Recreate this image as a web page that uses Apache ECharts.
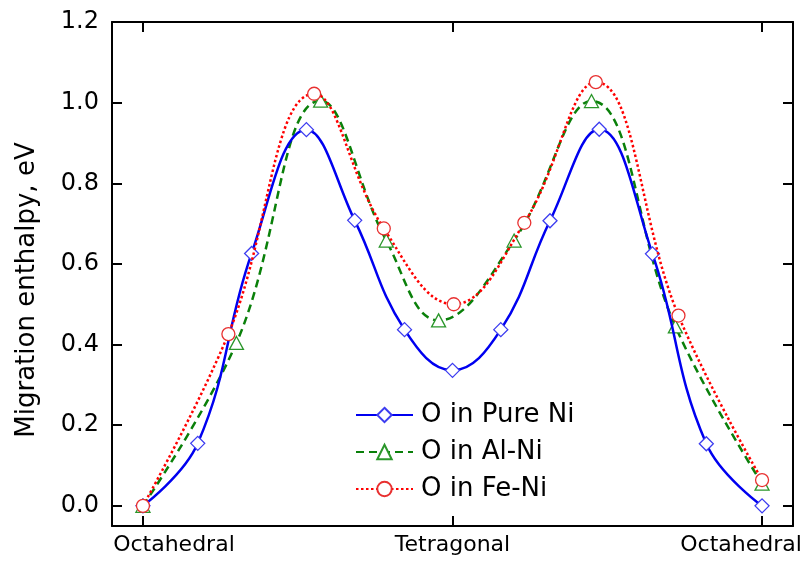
<!DOCTYPE html>
<html>
<head>
<meta charset="utf-8">
<script src="https://cdn.jsdelivr.net/npm/echarts@6/dist/echarts.min.js"></script>
<style>html,body{margin:0;padding:0;background:#fff}#c{width:807px;height:561px}</style>
</head>
<body>
<div id="c"></div>
<script>
// Reaction coordinate (0 = Octahedral, 1 = Tetragonal, 2 = Octahedral)
var pureNiX = [0, 0.177, 0.351, 0.528, 0.684, 0.845, 1.0, 1.156, 1.315, 1.474, 1.646, 1.82, 2.0];
var pureNiY = [0, 0.155, 0.626, 0.933, 0.708, 0.437, 0.336, 0.437, 0.707, 0.934, 0.625, 0.154, 0];
var alNiX = [0, 0.302, 0.574, 0.786, 0.955, 1.199, 1.449, 1.72, 2.0];
var alNiY = [0, 0.404, 1.005, 0.658, 0.46, 0.658, 1.004, 0.445, 0.055];
var feNiX = [0, 0.276, 0.553, 0.778, 1.004, 1.232, 1.463, 1.73, 2.0];
var feNiY = [0, 0.426, 1.022, 0.688, 0.5, 0.702, 1.051, 0.472, 0.064];
var seriesNames = ['O in Pure Ni', 'O in Al-Ni', 'O in Fe-Ni'];
var xTickValues = [0, 1, 2];
var xTickLabels = ['Octahedral', 'Tetragonal', 'Octahedral'];
var yTickValues = [0, 0.2, 0.4, 0.6, 0.8, 1.0, 1.2];
var yTitle = 'Migration enthalpy, eV';

function pairs(xs, ys) { return xs.map(function (x, i) { return [x, ys[i]]; }); }

var FONT = 'DejaVu Sans';
var chart = echarts.init(document.getElementById('c'), null, {renderer: 'canvas'});
var axisLineStyle = {color: '#000', width: 2};
var SMOOTH = 0.42;

var option = {
  backgroundColor: '#fff',
  animation: false,
  grid: {left: 112, right: 14, top: 22, bottom: 35, containLabel: false},
  legend: {
    orient: 'vertical', left: 355, top: 402, itemGap: 11, padding: 0,
    itemWidth: 57, itemHeight: 18,
    textStyle: {fontFamily: FONT, fontSize: 26, color: '#000', padding: [0, 0, 0, 3]},
    data: seriesNames
  },
  xAxis: [{
    type: 'value', min: -0.1, max: 2.1, position: 'bottom',
    axisLine: {show: true, onZero: false, lineStyle: axisLineStyle},
    axisTick: {show: true, inside: true, length: 10, lineStyle: {color: '#000', width: 2}, customValues: xTickValues},
    axisLabel: {
      show: true, margin: 8, customValues: xTickValues,
      fontFamily: FONT, fontSize: 22, color: '#000',
      formatter: function (v) {
        var i = xTickValues.indexOf(Math.round(v));
        if (i === 0) return '{l|' + xTickLabels[i] + '}';
        if (i === 2) return '{r|' + xTickLabels[i] + '}';
        return xTickLabels[i];
      },
      rich: {
        l: {fontFamily: FONT, fontSize: 22, color: '#000', padding: [0, 0, 0, 62]},
        r: {fontFamily: FONT, fontSize: 22, color: '#000', padding: [0, 42, 0, 0]}
      }
    },
    splitLine: {show: false}
  }, {
    type: 'value', min: -0.1, max: 2.1, position: 'top',
    axisLine: {show: true, onZero: false, lineStyle: axisLineStyle},
    axisTick: {show: true, inside: true, length: 10, lineStyle: {color: '#000', width: 2}, customValues: xTickValues},
    axisLabel: {show: false},
    splitLine: {show: false}
  }],
  yAxis: [{
    type: 'value', min: -0.05, max: 1.2, position: 'left',
    axisLine: {show: true, onZero: false, lineStyle: axisLineStyle},
    axisTick: {show: true, inside: true, length: 10, lineStyle: {color: '#000', width: 2}, customValues: yTickValues},
    axisLabel: {
      show: true, margin: 13, customValues: yTickValues,
      fontFamily: FONT, fontSize: 24, color: '#000',
      formatter: function (v) { return v.toFixed(1); }
    },
    splitLine: {show: false}
  }, {
    type: 'value', min: -0.05, max: 1.2, position: 'right',
    axisLine: {show: true, onZero: false, lineStyle: axisLineStyle},
    axisTick: {show: true, inside: true, length: 10, lineStyle: {color: '#000', width: 2}, customValues: yTickValues},
    axisLabel: {show: false},
    splitLine: {show: false}
  }],
  graphic: [{
    type: 'text', x: 27, y: 290, rotation: Math.PI / 2,
    style: {text: yTitle, fontFamily: FONT, fontSize: 26, fill: '#000', align: 'center', verticalAlign: 'middle'}
  }],
  series: [{
    name: seriesNames[0], type: 'line', smooth: SMOOTH,
    data: pairs(pureNiX, pureNiY),
    symbol: 'diamond', symbolSize: [14, 14], showSymbol: true,
    color: '#0000ff',
    lineStyle: {color: '#0000f0', width: 2.5, type: 'solid'},
    itemStyle: {color: '#fff', borderColor: '#3c3cf0', borderWidth: 1.3},
    z: 3
  }, {
    name: seriesNames[1], type: 'line', smooth: SMOOTH,
    data: pairs(alNiX, alNiY),
    symbol: 'triangle', symbolSize: [14, 13], showSymbol: true,
    color: '#008000',
    lineStyle: {color: '#0a800a', width: 2.5, type: [8, 5]},
    itemStyle: {color: '#fff', borderColor: '#2a962a', borderWidth: 1.3},
    z: 2
  }, {
    name: seriesNames[2], type: 'line', smooth: SMOOTH,
    data: pairs(feNiX, feNiY),
    symbol: 'circle', symbolSize: 13, showSymbol: true,
    color: '#ff0000',
    lineStyle: {color: '#ff0000', width: 2.5, type: [2.5, 2.5]},
    itemStyle: {color: '#fff', borderColor: '#e83030', borderWidth: 1.3},
    z: 4
  }]
};
chart.setOption(option);
</script>
</body>
</html>
